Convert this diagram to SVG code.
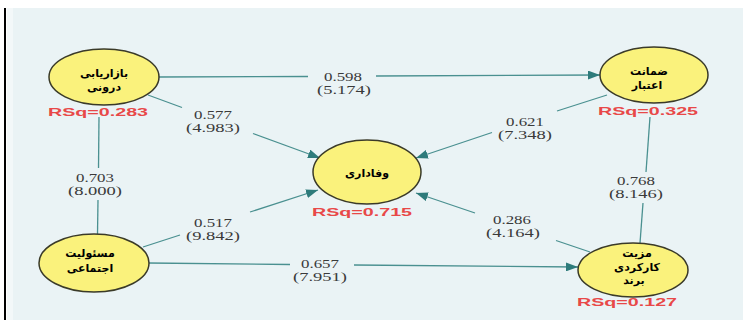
<svg xmlns="http://www.w3.org/2000/svg" width="743" height="320" viewBox="0 0 743 320">
<defs>
<marker id="arr" viewBox="0 0 12 9" refX="12" refY="4.5" markerWidth="12" markerHeight="9" markerUnits="userSpaceOnUse" orient="auto">
<path d="M0,0 L12,4.5 L0,9 z" fill="#2E7B7B"/>
</marker>
<style>
.node ellipse{fill:#FAF27C;stroke:#3A3A28;stroke-width:1.5}
.fa{font-family:"DejaVu Sans",sans-serif;font-size:11px;font-weight:bold;fill:#000;text-anchor:middle;direction:rtl}
.rsq{font-family:"Liberation Sans",Arial,sans-serif;font-size:11px;font-weight:bold;fill:#E84848;text-anchor:middle}
.lbl{font-family:"Liberation Serif","Times New Roman",serif;font-size:11.5px;fill:#3A3A3A;text-anchor:middle}
.e{stroke:#4A9090;stroke-width:1.3;fill:none}
</style>
</defs>
<rect x="0" y="0" width="743" height="320" fill="#FFFFFF"/>
<rect x="7" y="8" width="736" height="312" fill="#EAF3F5"/>
<rect x="7" y="8" width="6" height="312" fill="#F3F8F9"/>
<rect x="4" y="8" width="2" height="312" fill="#000000"/>

<g id="connectors">
<path class="e" d="M158,77 L308,76.5"/>
<path class="e" d="M376,76 L600,75" marker-end="url(#arr)"/>
<path class="e" d="M148,95 L182,107.5"/>
<path class="e" d="M253,133.5 L320,158" marker-end="url(#arr)"/>
<path class="e" d="M607,95 L557,111"/>
<path class="e" d="M492,132.5 L416,158" marker-end="url(#arr)"/>
<path class="e" d="M143,247 L180,235"/>
<path class="e" d="M250,212 L318,190" marker-end="url(#arr)"/>
<path class="e" d="M590,252 L556,240.5"/>
<path class="e" d="M475,213 L416,193" marker-end="url(#arr)"/>
<path class="e" d="M148,263 L290,264.5"/>
<path class="e" d="M354,265 L578,267" marker-end="url(#arr)"/>
<path class="e" d="M99,117 L98.5,168"/>
<path class="e" d="M98,200 L97.5,234"/>
<path class="e" d="M650,117 L646,172"/>
<path class="e" d="M643,203 L640,243"/>
</g>

<g id="edge-labels">
<text class="lbl" x="343" y="81" textLength="38" lengthAdjust="spacingAndGlyphs">0.598</text>
<text class="lbl" x="344" y="94" textLength="54" lengthAdjust="spacingAndGlyphs">(5.174)</text>
<text class="lbl" x="213" y="119" textLength="38" lengthAdjust="spacingAndGlyphs">0.577</text>
<text class="lbl" x="213" y="132" textLength="54" lengthAdjust="spacingAndGlyphs">(4.983)</text>
<text class="lbl" x="525" y="126" textLength="38" lengthAdjust="spacingAndGlyphs">0.621</text>
<text class="lbl" x="525" y="139" textLength="54" lengthAdjust="spacingAndGlyphs">(7.348)</text>
<text class="lbl" x="213" y="227" textLength="38" lengthAdjust="spacingAndGlyphs">0.517</text>
<text class="lbl" x="213" y="240" textLength="54" lengthAdjust="spacingAndGlyphs">(9.842)</text>
<text class="lbl" x="512" y="224" textLength="38" lengthAdjust="spacingAndGlyphs">0.286</text>
<text class="lbl" x="513" y="237" textLength="54" lengthAdjust="spacingAndGlyphs">(4.164)</text>
<text class="lbl" x="320" y="268" textLength="38" lengthAdjust="spacingAndGlyphs">0.657</text>
<text class="lbl" x="320" y="281" textLength="54" lengthAdjust="spacingAndGlyphs">(7.951)</text>
<text class="lbl" x="95" y="182" textLength="38" lengthAdjust="spacingAndGlyphs">0.703</text>
<text class="lbl" x="95" y="195" textLength="54" lengthAdjust="spacingAndGlyphs">(8.000)</text>
<text class="lbl" x="636" y="185" textLength="38" lengthAdjust="spacingAndGlyphs">0.768</text>
<text class="lbl" x="636" y="198" textLength="54" lengthAdjust="spacingAndGlyphs">(8.146)</text>
</g>

<g id="node-tl" class="node">
<ellipse cx="104" cy="77" rx="55" ry="28"/>
<text class="fa" x="104" y="77">بازاریابی</text>
<text class="fa" x="104" y="91">درونی</text>
<text class="rsq" x="98" y="116" textLength="100" lengthAdjust="spacingAndGlyphs">RSq=0.283</text>
</g>

<g id="node-tr" class="node">
<ellipse cx="654" cy="75" rx="54" ry="28"/>
<text class="fa" x="649" y="75">ضمانت</text>
<text class="fa" x="647" y="89">اعتبار</text>
<text class="rsq" x="648" y="115" textLength="100" lengthAdjust="spacingAndGlyphs">RSq=0.325</text>
</g>

<g id="node-c" class="node">
<ellipse cx="367" cy="172" rx="54" ry="32"/>
<text class="fa" x="367" y="177">وفاداری</text>
<text class="rsq" x="362" y="216" textLength="100" lengthAdjust="spacingAndGlyphs">RSq=0.715</text>
</g>

<g id="node-bl" class="node">
<ellipse cx="94" cy="263" rx="55" ry="29"/>
<text class="fa" x="90" y="257">مسئولیت</text>
<text class="fa" x="90" y="272">اجتماعی</text>
</g>

<g id="node-br" class="node">
<ellipse cx="633" cy="270" rx="55" ry="27"/>
<text class="fa" x="637" y="257">مزیت</text>
<text class="fa" x="637" y="271">کارکردی</text>
<text class="fa" x="634" y="284">برند</text>
<text class="rsq" x="627" y="306" textLength="100" lengthAdjust="spacingAndGlyphs">RSq=0.127</text>
</g>
</svg>
